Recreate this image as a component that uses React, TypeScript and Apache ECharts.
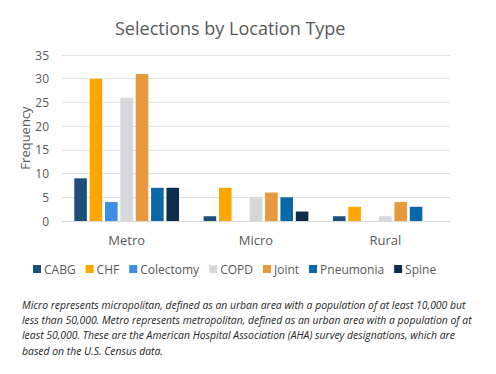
import React, { useEffect, useRef } from "react";
import * as echarts from "echarts";

const categories = ["Metro", "Micro", "Rural"];
const seriesNames = ["CABG", "CHF", "Colectomy", "COPD", "Joint", "Pneumonia", "Spine"];
const cabg = [9, 1, 1];
const chf = [30, 7, 3];
const colectomy = [4, 0, 0];
const copd = [26, 5, 1];
const joint = [31, 6, 4];
const pneumonia = [7, 5, 3];
const spine = [7, 2, 0];
const seriesValues = [cabg, chf, colectomy, copd, joint, pneumonia, spine];
const colors = ["#1d4f7c", "#ffa600", "#3d8ee4", "#d5d7da", "#e8993d", "#0a67a8", "#0d2d4c"];
const yTicks = { min: 0, max: 35, interval: 5 };

const titleText = "Selections by Location Type";
const footnote = [
  "Micro represents micropolitan, defined as an urban area with a population of at least 10,000 but",
  "less than 50,000. Metro represents metropolitan, defined as an urban area with a population of at",
  "least 50,000. These are the American Hospital Association (AHA) survey designations, which are",
  "based on the U.S. Census data.",
];

const FONT = "'Open Sans', 'Noto Sans', sans-serif";

export default function App() {
  const ref = useRef<HTMLDivElement>(null);
  useEffect(() => {
    document.body.style.margin = "0";
    const chart = echarts.init(ref.current!, null, { renderer: "svg" });
    chart.setOption({
      animation: false,
      backgroundColor: "#ffffff",
      textStyle: { fontFamily: FONT },
      title: {
        text: titleText,
        left: 110,
        top: 14,
        textStyle: { fontFamily: FONT, fontSize: 18, fontWeight: "normal", color: "#595959" },
      },
      legend: {
        data: seriesNames,
        left: 28,
        top: 258,
        icon: "rect",
        itemWidth: 8,
        itemHeight: 8,
        itemGap: 10,
        textStyle: { fontFamily: FONT, fontSize: 12, color: "#595959", padding: [0, 0, 0, -2] },
      },
      grid: { left: 62, right: 46, top: 55, bottom: 153 },
      xAxis: {
        type: "category",
        data: categories,
        axisLine: { lineStyle: { color: "#d9d9d9" } },
        axisTick: { show: false },
        axisLabel: { fontFamily: FONT, fontSize: 13, color: "#595959", margin: 12 },
      },
      yAxis: {
        type: "value",
        min: yTicks.min,
        max: yTicks.max,
        interval: yTicks.interval,
        name: "Frequency",
        nameLocation: "middle",
        nameRotate: 90,
        nameGap: 31,
        nameMoveOverlap: false,
        nameTextStyle: { fontFamily: FONT, fontSize: 13, color: "#595959" },
        axisLabel: { fontFamily: FONT, fontSize: 12, color: "#595959", margin: 13 },
        splitLine: { lineStyle: { color: "#e3e3e3" } },
        axisLine: { show: false },
        axisTick: { show: false },
      },
      series: seriesNames.map((name, i) => ({
        name,
        type: "bar",
        data: seriesValues[i],
        itemStyle: { color: colors[i] },
        barGap: "22%",
        barCategoryGap: "19%",
      })),
      graphic: [
        {
          type: "text",
          left: 22,
          top: 297,
          style: {
            text: footnote.join("\n"),
            font: `italic 10.4px ${FONT}`,
            lineHeight: 15.3,
            fill: "#262626",
          },
        },
      ],
    });
    return () => chart.dispose();
  }, []);
  return <div ref={ref} style={{ width: 496, height: 374 }} />;
}
